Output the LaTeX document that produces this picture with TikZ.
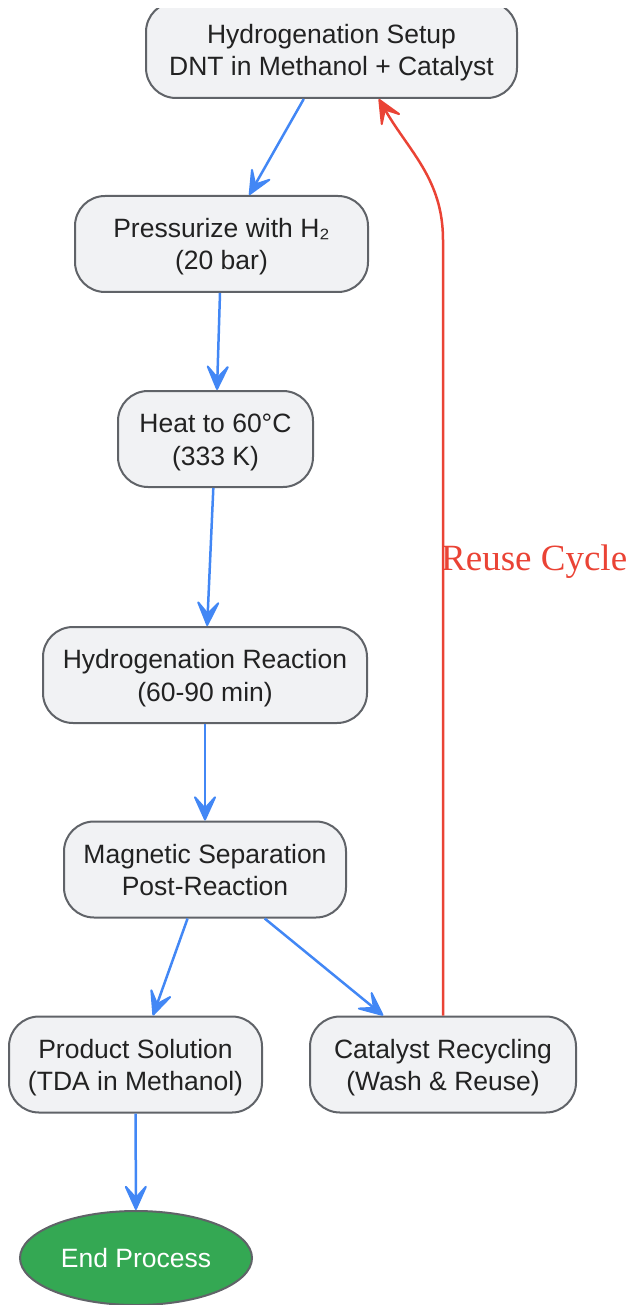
\documentclass[tikz,border=0pt]{standalone}
\usepackage{fontspec}
\setmainfont{Liberation Sans}
\newfontfamily\labelfont{Liberation Serif}
\usetikzlibrary{arrows.meta,shapes.geometric}
\definecolor{boxfill}{HTML}{F1F2F4}
\definecolor{boxline}{HTML}{606368}
\definecolor{boxtext}{HTML}{222222}
\definecolor{flowblue}{HTML}{4287F5}
\definecolor{cyclered}{HTML}{EA4335}
\definecolor{endgreen}{HTML}{34A853}
\begin{document}
\begin{tikzpicture}[x=1pt,y=-1pt,
	stepbox/.style={draw=boxline,line width=2pt,fill=boxfill,text=boxtext,rounded corners=30pt,align=center,
		inner sep=0pt,minimum height=96pt,font=\fontsize{26.5}{32.3}\selectfont,
		text height=54pt,text depth=2pt},
	vee/.style={-{Stealth[length=30pt,width=27pt,inset=15pt,line width=2pt,round]}},
	flow/.style={draw=flowblue,line width=2.5pt,vee},
	cycle/.style={draw=cyclered,line width=2.5pt,vee}]
		\useasboundingbox (0,0) rectangle (630,1305);
		\clip (0,9) rectangle (630,1305);
		\node[stepbox,minimum width=371pt] (setup) at (331.5,50) {Hydrogenation Setup\\DNT in Methanol + Catalyst};
		\node[stepbox,minimum width=293pt] (press) at (221.5,244) {Pressurize with H₂\\(20 bar)};
		\node[stepbox,minimum width=195pt] (heat) at (215.5,439) {Heat to 60°C\\(333 K)};
		\node[stepbox,minimum width=324pt] (react) at (205,675) {Hydrogenation Reaction\\(60-90 min)};
		\node[stepbox,minimum width=282pt] (magsep) at (205,869.5) {Magnetic Separation\\Post-Reaction};
		\node[stepbox,minimum width=253pt] (product) at (135.5,1064.5) {Product Solution\\(TDA in Methanol)};
		\node[stepbox,minimum width=266pt] (recycle) at (443,1064.5) {Catalyst Recycling\\(Wash \& Reuse)};
		\node[ellipse,draw=boxline,line width=2pt,fill=endgreen,text=white,inner sep=0pt,
			minimum width=232pt,minimum height=94pt,font=\fontsize{26.5}{32}\selectfont] (end) at (136,1258) {End Process};
		\draw[flow] (setup) -- (press);
		\draw[flow] (press) -- (heat);
		\draw[flow] (heat) -- (react);
		\draw[flow] (react) -- (magsep);
		\draw[flow] (magsep) -- (product);
		\draw[flow] (magsep) -- (recycle);
		\draw[flow] (product) -- (end);
		\coordinate (bend) at (443,240);
		\draw[cycle] (recycle.north) -- (bend) to[out=90,in=-60] (setup.-46);
		\node[anchor=west,inner sep=0pt,text=cyclered,font=\labelfont\fontsize{37}{40}\selectfont] (reuse) at (441,562) {Reuse Cycle};
\end{tikzpicture}
\end{document}
